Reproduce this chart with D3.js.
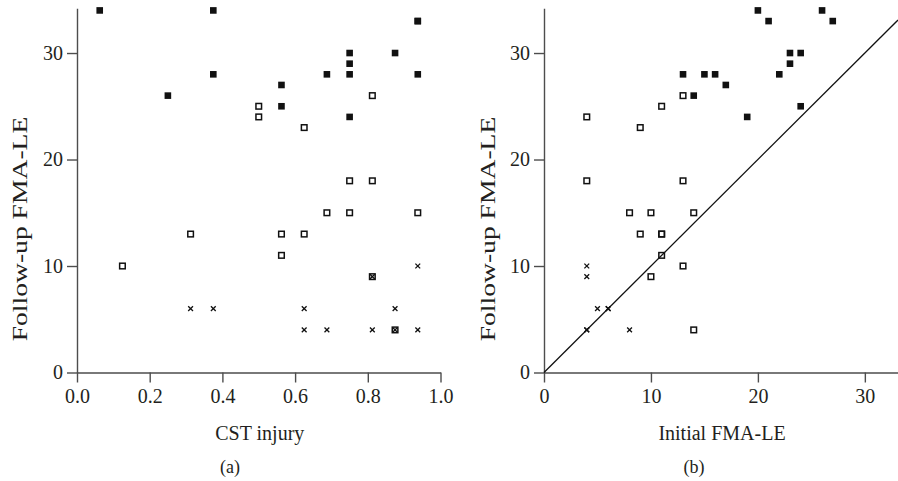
<!DOCTYPE html>
<html>
<head>
<meta charset="utf-8">
<script src="https://cdn.jsdelivr.net/npm/d3@7"></script>
<style>
  body { margin: 0; background: #fff; }
  text { font-family: "Liberation Serif", "Times New Roman", serif; fill: #231f20; }
  .axis path, .axis line { stroke: #4d4d4d; stroke-width: 1.4px; }
  .axis text { font-size: 20px; }
</style>
</head>
<body>
<div id="chart"></div>
<script>
// Panel (a): CST injury vs follow-up FMA-LE
var cstGood = [0.0625, 0.375, 0.375, 0.25, 0.9375, 0.9375, 0.75, 0.875, 0.75, 0.6875, 0.75, 0.9375, 0.5625, 0.5625, 0.75];
var followGoodA = [34, 34, 28, 26, 33, 33, 30, 30, 29, 28, 28, 28, 27, 25, 24];
var cstOpen = [0.5, 0.5, 0.625, 0.8125, 0.75, 0.8125, 0.125, 0.3125, 0.6875, 0.75, 0.9375, 0.5625, 0.625, 0.5625, 0.8125, 0.875];
var followOpenA = [25, 24, 23, 26, 18, 18, 10, 13, 15, 15, 15, 13, 13, 11, 9, 4];
var cstCross = [0.3125, 0.375, 0.9375, 0.625, 0.875, 0.625, 0.6875, 0.8125, 0.9375, 0.8125, 0.875];
var followCrossA = [6, 6, 10, 6, 6, 4, 4, 4, 4, 9, 4];

// Panel (b): initial vs follow-up FMA-LE
var initGood = [20, 21, 26, 27, 23, 24, 23, 13, 15, 16, 22, 17, 14, 24, 19];
var followGoodB = [34, 33, 34, 33, 30, 30, 29, 28, 28, 28, 28, 27, 26, 25, 24];
var initOpen = [13, 11, 4, 9, 4, 13, 8, 10, 14, 9, 11, 11, 11, 13, 10, 14];
var followOpenB = [26, 25, 24, 23, 18, 18, 15, 15, 15, 13, 13, 13, 11, 10, 9, 4];
var initCross = [4, 4, 5, 6, 6, 4, 4, 8];
var followCrossB = [10, 9, 6, 6, 6, 4, 4, 4];

// tick values
var xTicksA = [0, 0.2, 0.4, 0.6, 0.8, 1.0];
var xTicksB = [0, 10, 20, 30];
var yTicks = [0, 10, 20, 30];

var svgWidth = 898;
var svgHeight = 481;

var svg = d3.select("#chart")
  .append("svg")
  .attr("width", svgWidth)
  .attr("height", svgHeight);

svg.append("rect")
  .attr("width", svgWidth)
  .attr("height", svgHeight)
  .attr("fill", "#fff");

var yScale = d3.scaleLinear()
  .domain([0, 34.2])
  .range([372.5, 8.3]);

var xScaleA = d3.scaleLinear()
  .domain([0, 1])
  .range([77, 440.5]);

var xScaleB = d3.scaleLinear()
  .domain([0, 33.1])
  .range([544, 898]);

function zip(xs, ys) {
  return xs.map(function(x, i) { return { x: x, y: ys[i] }; });
}

function drawPanel(xScale, xTicks, xFormat, good, open, cross, xTitle, tag, tagX, ylabX) {
  var g = svg.append("g");

  // axes
  g.append("g")
    .attr("class", "axis")
    .attr("transform", `translate(0, ${yScale(0)})`)
    .call(d3.axisBottom(xScale).tickValues(xTicks).tickFormat(xFormat).tickSize(10).tickSizeOuter(0).tickPadding(6));

  g.append("g")
    .attr("class", "axis")
    .attr("transform", `translate(${xScale(0)}, 0)`)
    .call(d3.axisLeft(yScale).tickValues(yTicks).tickSize(10).tickSizeOuter(0).tickPadding(4));

  // filled squares
  g.selectAll(".good")
    .data(good)
    .enter()
    .append("rect")
    .attr("x", d => xScale(d.x) - 3.3)
    .attr("y", d => yScale(d.y) - 3.3)
    .attr("width", 6.6)
    .attr("height", 6.6)
    .attr("fill", "#111");

  // open squares
  g.selectAll(".open")
    .data(open)
    .enter()
    .append("rect")
    .attr("x", d => xScale(d.x) - 2.8)
    .attr("y", d => yScale(d.y) - 2.8)
    .attr("width", 5.6)
    .attr("height", 5.6)
    .attr("fill", "none")
    .attr("stroke", "#111")
    .attr("stroke-width", 1.5);

  // crosses
  g.selectAll(".cross")
    .data(cross)
    .enter()
    .append("path")
    .attr("d", d => {
      var cx = xScale(d.x), cy = yScale(d.y), s = 2.4;
      return `M${cx - s},${cy - s}L${cx + s},${cy + s}M${cx - s},${cy + s}L${cx + s},${cy - s}`;
    })
    .attr("stroke", "#111")
    .attr("stroke-width", 1.3);

  // axis titles
  g.append("text")
    .attr("x", (xScale.range()[0] + xScale.range()[1]) / 2 + 1)
    .attr("y", 440)
    .attr("text-anchor", "middle")
    .style("font-size", "20px")
    .text(xTitle);

  g.append("text")
    .attr("transform", `translate(${ylabX}, 229) rotate(-90) scale(1.38, 1)`)
    .attr("text-anchor", "middle")
    .style("font-size", "20px")
    .text("Follow-up FMA-LE");

  g.append("text")
    .attr("x", tagX)
    .attr("y", 473)
    .attr("text-anchor", "middle")
    .style("font-size", "18px")
    .text(tag);

  return g;
}

drawPanel(xScaleA, xTicksA, d3.format(".1f"),
  zip(cstGood, followGoodA), zip(cstOpen, followOpenA), zip(cstCross, followCrossA),
  "CST injury", "(a)", 230, 27);

var gB = drawPanel(xScaleB, xTicksB, d3.format("d"),
  zip(initGood, followGoodB), zip(initOpen, followOpenB), zip(initCross, followCrossB),
  "Initial FMA-LE", "(b)", 694, 495);

// identity line y = x
gB.append("line")
  .attr("x1", xScaleB(0))
  .attr("y1", yScale(0))
  .attr("x2", xScaleB(33.1))
  .attr("y2", yScale(33.1))
  .attr("stroke", "#111")
  .attr("stroke-width", 1.3);
</script>
</body>
</html>
